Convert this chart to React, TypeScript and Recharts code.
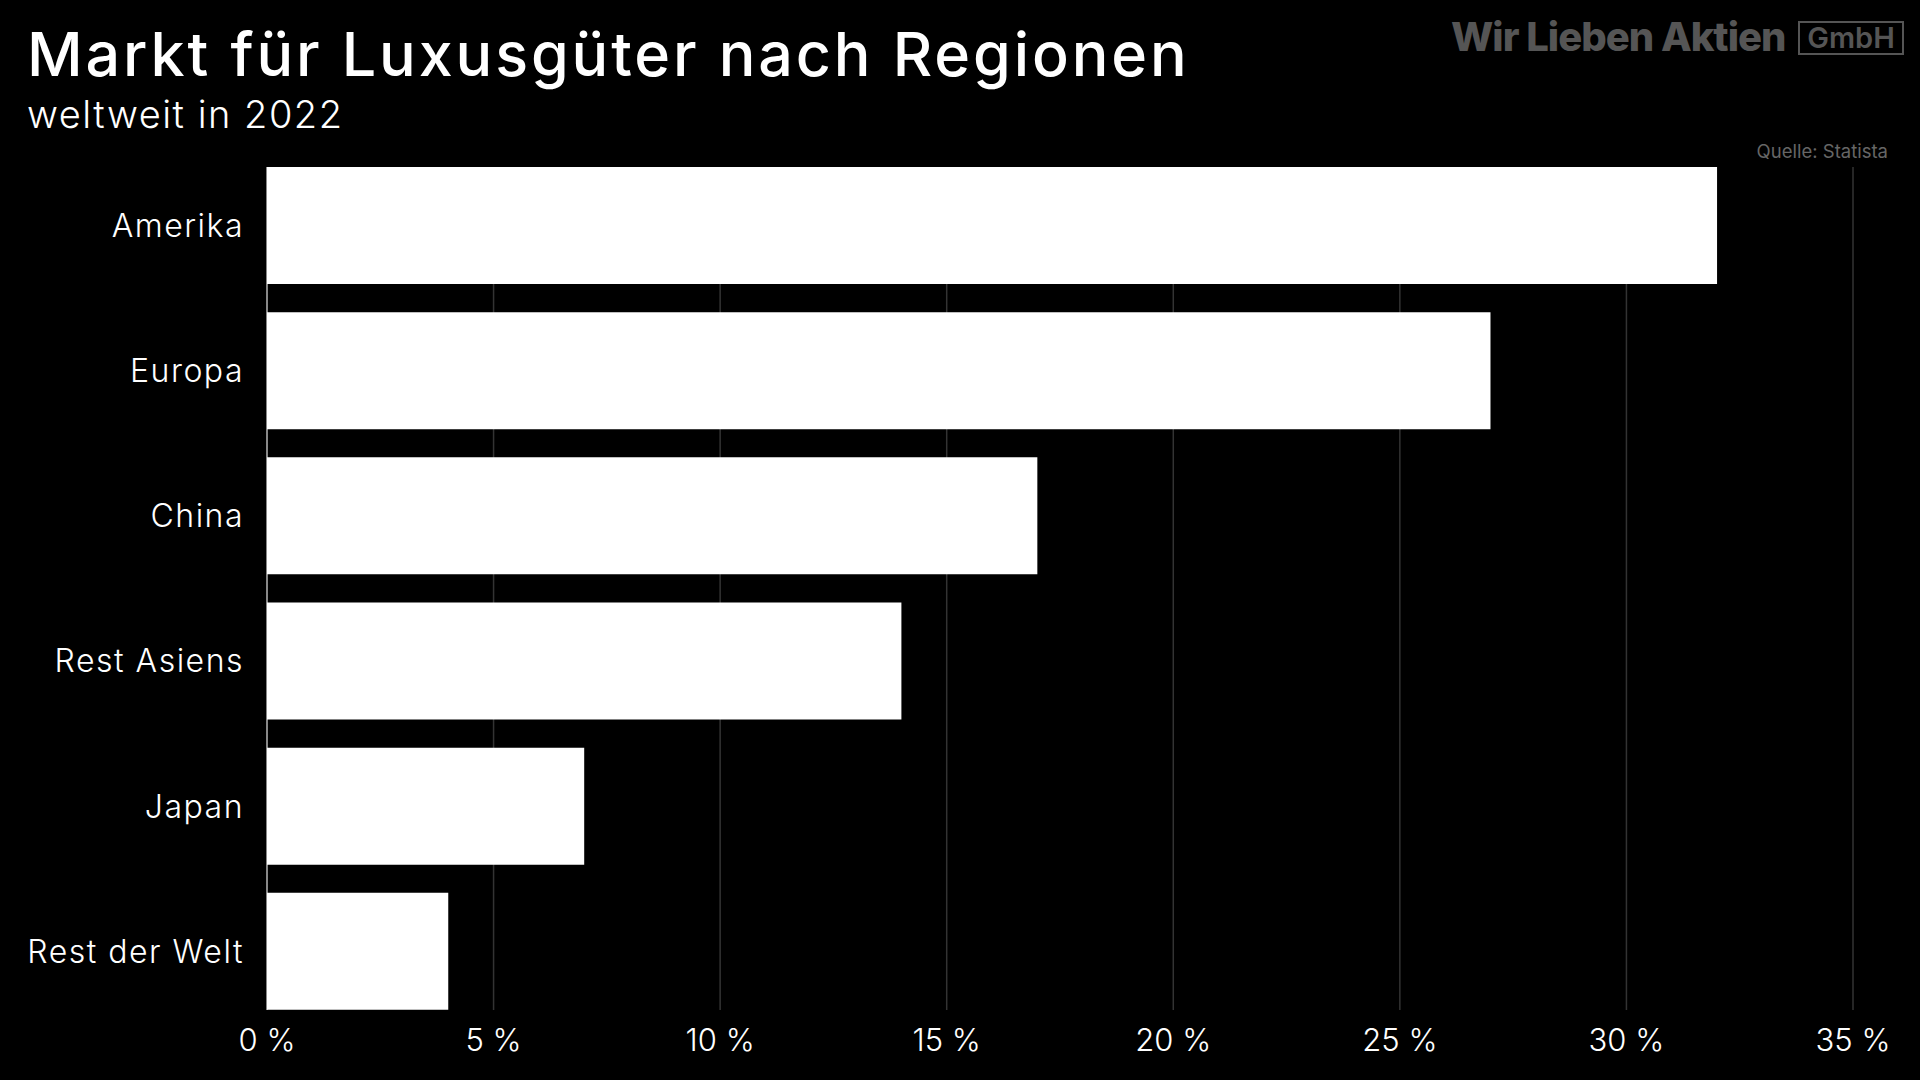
import { BarChart, Bar, XAxis, YAxis, CartesianGrid } from "recharts";

const regionen = ["Amerika", "Europa", "China", "Rest Asiens", "Japan", "Rest der Welt"];
const anteile = [32, 27, 17, 14, 7, 4];
const xTicks = [0, 5, 10, 15, 20, 25, 30, 35];

const data = regionen.map((name, i) => ({ name, anteil: anteile[i] }));

const FONT = "Inter, 'Open Sans', sans-serif";

// grid lines only span the bars, not the full band area
const GRID_TOP = 167;
const GRID_H = 843;

export default function App() {
  return (
    <div
      style={{
        position: "absolute", left: 0, top: 0, width: 1920, height: 1080,
        background: "#000", fontFamily: FONT, overflow: "hidden",
      }}
    >
      <div style={{ position: "absolute", left: 27, top: 14, color: "#fff", fontSize: 61, fontWeight: 500, lineHeight: "80px", letterSpacing: 2.9 }}>
        Markt für Luxusgüter nach Regionen
      </div>
      <div style={{ position: "absolute", left: 27, top: 91, color: "#fff", fontSize: 38, fontWeight: 300, lineHeight: "46px", letterSpacing: 1.5 }}>
        weltweit in 2022
      </div>
      <div style={{ position: "absolute", left: 1451, top: 14, color: "#555", fontSize: 40, fontWeight: 800, lineHeight: "46px", letterSpacing: -1 }}>
        Wir Lieben Aktien
      </div>
      <div
        style={{
          position: "absolute", left: 1798, top: 21, width: 102, height: 30,
          border: "2px solid #555", color: "#555", fontSize: 29, fontWeight: 600,
          lineHeight: "30px", textAlign: "center",
        }}
      >
        GmbH
      </div>
      <div style={{ position: "absolute", right: 32, top: 140, color: "#666", fontSize: 18.5, lineHeight: "22px" }}>
        Quelle: Statista
      </div>
      <div style={{ position: "absolute", left: 0, top: 0 }}>
        <BarChart
          width={1920}
          height={1080}
          data={data}
          layout="vertical"
          margin={{ top: 153, right: 67, bottom: 0, left: 27 }}
          barSize={117}
        >
          <CartesianGrid horizontal={false} stroke="#333" strokeWidth={1.5} y={GRID_TOP} height={GRID_H} />
          <CartesianGrid horizontal={false} verticalPoints={[267]} stroke="#aaa" strokeWidth={1.5} y={GRID_TOP} height={GRID_H} />
          <XAxis
            type="number"
            domain={[0, 35]}
            ticks={xTicks}
            tickFormatter={(v) => `${v} %`}
            axisLine={false}
            tickLine={false}
            tickSize={0}
            tickMargin={5}
            height={56}
            tick={{ fill: "#fff", fontSize: 31, fontFamily: FONT, fontWeight: 300 }}
          />
          <YAxis
            type="category"
            dataKey="name"
            width={240}
            axisLine={false}
            tickLine={false}
            tickSize={0}
            tickMargin={23}
            tick={{ fill: "#fff", fontSize: 32, fontFamily: FONT, fontWeight: 300, letterSpacing: 1.5 }}
          />
          <Bar dataKey="anteil" fill="#fff" isAnimationActive={false} />
        </BarChart>
      </div>
    </div>
  );
}
